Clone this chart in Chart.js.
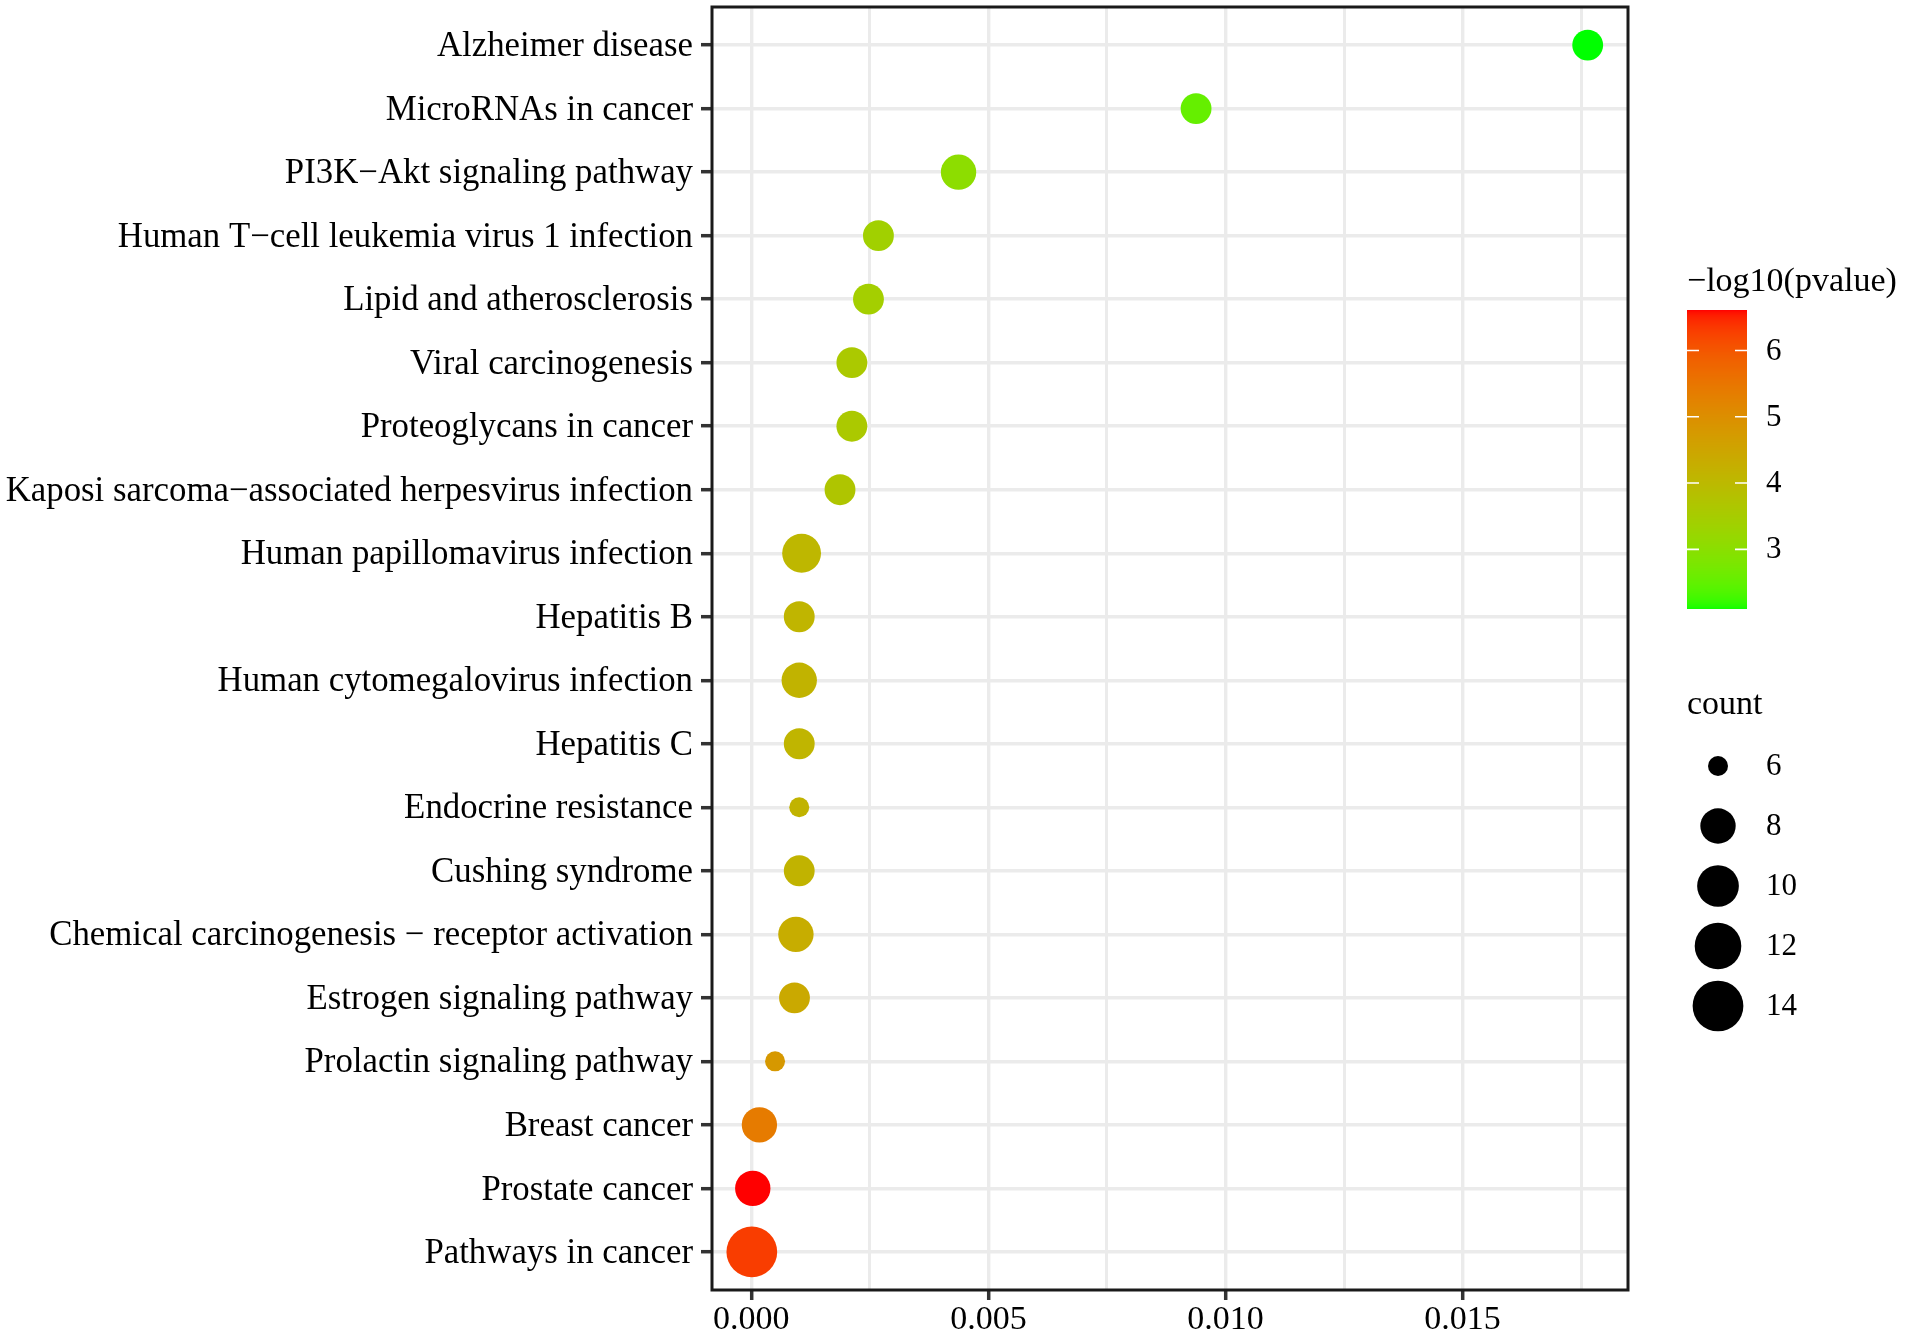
<!DOCTYPE html>
<html>
<head>
<meta charset="utf-8">
<script src="https://cdn.jsdelivr.net/npm/chart.js@4.4.1/dist/chart.umd.min.js"></script>
<style>
html,body{margin:0;padding:0;background:#fff;}
canvas{display:block;}
</style>
</head>
<body>
<canvas id="c" width="1907" height="1341" style="width:1907px;height:1341px"></canvas>
<script>
// ---------- data ----------
const categories = [
  "Alzheimer disease",
  "MicroRNAs in cancer",
  "PI3K\u2212Akt signaling pathway",
  "Human T\u2212cell leukemia virus 1 infection",
  "Lipid and atherosclerosis",
  "Viral carcinogenesis",
  "Proteoglycans in cancer",
  "Kaposi sarcoma\u2212associated herpesvirus infection",
  "Human papillomavirus infection",
  "Hepatitis B",
  "Human cytomegalovirus infection",
  "Hepatitis C",
  "Endocrine resistance",
  "Cushing syndrome",
  "Chemical carcinogenesis \u2212 receptor activation",
  "Estrogen signaling pathway",
  "Prolactin signaling pathway",
  "Breast cancer",
  "Prostate cancer",
  "Pathways in cancer"
];
const xValues = [0.01764, 0.00938, 0.00437, 0.00268, 0.00247, 0.00212, 0.00212, 0.00187,
                 0.00106, 0.00101, 0.00101, 0.00101, 0.00101, 0.00101, 0.00094, 0.00091,
                 0.00050, 0.00017, 0.00003, 0.00001];
const negLog10P = [2.10, 2.55, 3.05, 3.40, 3.45, 3.60, 3.60, 3.70,
                   4.05, 4.10, 4.15, 4.10, 4.15, 4.15, 4.30, 4.40,
                   4.80, 5.40, 6.61, 6.30];
const counts = [7, 7, 8, 7, 7, 7, 7, 7, 9, 7, 8, 7, 6, 7, 8, 7, 6, 8, 8, 14];
const xMajorTicks = [0, 0.005, 0.010, 0.015];
const xMinorTicks = [0.0025, 0.0075, 0.0125, 0.0175];
const colorTicks = [3, 4, 5, 6];
const sizeBreaks = [6, 8, 10, 12, 14];
const colorTitle = "\u2212log10(pvalue)";
const sizeTitle = "count";

// ---------- helpers ----------
const FONT = "'Liberation Serif', 'Times New Roman', serif";
function toLin(c){c/=255;return c<=0.04045?c/12.92:Math.pow((c+0.055)/1.055,2.4);}
function toGam(c){c=c<=0.0031308?12.92*c:1.055*Math.pow(c,1/2.4)-0.055;return Math.max(0,Math.min(255,Math.round(c*255)));}
const Xn=0.95047,Yn=1,Zn=1.08883;
function f(t){return t>0.008856?Math.cbrt(t):7.787*t+16/116;}
function fi(t){const t3=t*t*t;return t3>0.008856?t3:(t-16/116)/7.787;}
function rgb2lab(r,g,b){
  r=toLin(r);g=toLin(g);b=toLin(b);
  const X=0.4124564*r+0.3575761*g+0.1804375*b,Y=0.2126729*r+0.7151522*g+0.0721750*b,Z=0.0193339*r+0.1191920*g+0.9503041*b;
  const fx=f(X/Xn),fy=f(Y/Yn),fz=f(Z/Zn);
  return [116*fy-16,500*(fx-fy),200*(fy-fz)];
}
function lab2rgb(L,a,b){
  const fy=(L+16)/116,fx=fy+a/500,fz=fy-b/200;
  const X=Xn*fi(fx),Y=Yn*fi(fy),Z=Zn*fi(fz);
  const r=3.2404542*X-1.5371385*Y-0.4985314*Z,g=-0.9692660*X+1.8760108*Y+0.0415560*Z,bb=0.0556434*X-0.2040259*Y+1.0572252*Z;
  return 'rgb('+toGam(r)+','+toGam(g)+','+toGam(bb)+')';
}
const LOW=rgb2lab(0,255,0), HIGH=rgb2lab(255,0,0);
const cMin=Math.min(...negLog10P), cMax=Math.max(...negLog10P);
function colorFor(v){
  const t=Math.max(0,Math.min(1,(v-cMin)/(cMax-cMin)));
  return lab2rgb(LOW[0]+(HIGH[0]-LOW[0])*t,LOW[1]+(HIGH[1]-LOW[1])*t,LOW[2]+(HIGH[2]-LOW[2])*t);
}
const nMin=Math.min(...counts), nMax=Math.max(...counts);
function radiusFor(n){
  const s=1+5*Math.sqrt(Math.max(0,(n-nMin)/(nMax-nMin)));
  return 0.5*6.15*(s+2.25);
}
const isMajor = v => xMajorTicks.some(m=>Math.abs(m-v)<1e-9);

// ---------- plugins ----------
const panelBorder = {
  id:'panelBorder',
  afterDatasetsDraw(chart){
    const {ctx, chartArea:a} = chart;
    ctx.save();
    ctx.strokeStyle='#1a1a1a';ctx.lineWidth=3;
    ctx.strokeRect(a.left,a.top,a.right-a.left,a.bottom-a.top);
    ctx.restore();
  }
};
const legends = {
  id:'legends',
  afterDraw(chart){
    const ctx=chart.ctx;
    ctx.save();
    const lx=1687;
    ctx.fillStyle='#000';ctx.textBaseline='alphabetic';ctx.textAlign='left';
    ctx.font='34px '+FONT;
    ctx.fillText(colorTitle,lx,291);
    const top=310,bot=609,bl=1687,br=1747,n=300;
    for(let i=0;i<n;i++){
      const v=cMin+(cMax-cMin)*(i+0.5)/n;
      const y1=bot-(bot-top)*(i+1)/n, y0=bot-(bot-top)*i/n;
      ctx.fillStyle=colorFor(v);
      ctx.fillRect(bl,Math.floor(y1),br-bl,Math.ceil(y0)-Math.floor(y1));
    }
    ctx.strokeStyle='#fff';ctx.lineWidth=1.6;
    ctx.font='31px '+FONT;ctx.textBaseline='middle';
    colorTicks.forEach(v=>{
      const y=bot-(v-cMin)/(cMax-cMin)*(bot-top);
      ctx.beginPath();
      ctx.moveTo(bl,y);ctx.lineTo(bl+12,y);
      ctx.moveTo(br-12,y);ctx.lineTo(br,y);
      ctx.stroke();
      ctx.fillStyle='#000';
      ctx.fillText(String(v),1766,y+1);
    });
    ctx.textBaseline='alphabetic';
    ctx.font='34px '+FONT;
    ctx.fillText(sizeTitle,lx,714);
    ctx.font='31px '+FONT;ctx.textBaseline='middle';
    sizeBreaks.forEach((b,i)=>{
      const y=766+i*60;
      ctx.beginPath();ctx.fillStyle='#000';
      ctx.arc(1718,y,radiusFor(b),0,Math.PI*2);ctx.fill();
      ctx.fillText(String(b),1766,y+1);
    });
    ctx.restore();
  }
};

// ---------- chart ----------
function draw(){
  new Chart(document.getElementById('c'),{
    type:'scatter',
    data:{datasets:[{
      data:categories.map((c,i)=>({x:xValues[i],y:i})),
      pointRadius:ctx=>radiusFor(counts[ctx.dataIndex]),
      pointHoverRadius:ctx=>radiusFor(counts[ctx.dataIndex]),
      pointBackgroundColor:ctx=>colorFor(negLog10P[ctx.dataIndex]),
      pointBorderWidth:0,
      pointHoverBorderWidth:0
    }]},
    options:{
      responsive:false,animation:false,devicePixelRatio:1,
      events:[],
      layout:{autoPadding:false,padding:{left:0,right:279,top:7,bottom:0}},
      plugins:{legend:{display:false},tooltip:{enabled:false}},
      scales:{
        x:{
          type:'linear',min:-0.00083,max:0.01849,
          afterBuildTicks:s=>{s.ticks=[...xMajorTicks,...xMinorTicks].sort((a,b)=>a-b).map(v=>({value:v}));},
          afterFit:s=>{s.height=51;s.paddingLeft=0;s.paddingRight=0;},
          border:{display:false},
          grid:{
            color:'#EBEBEB',lineWidth:ctx=>isMajor(ctx.tick.value)?3.4:3,
            tickLength:10,tickWidth:3.5,
            tickColor:ctx=>isMajor(ctx.tick.value)?'#333':'rgba(0,0,0,0)'
          },
          ticks:{
            autoSkip:false,maxRotation:0,padding:0,color:'#000',
            font:{family:FONT,size:34},
            callback:v=>isMajor(v)?v.toFixed(3):''
          }
        },
        y:{
          type:'linear',min:-0.6,max:categories.length-0.4,reverse:true,
          afterBuildTicks:s=>{s.ticks=categories.map((c,i)=>({value:i}));},
          afterFit:s=>{s.width=712;s.paddingTop=0;s.paddingBottom=0;},
          border:{display:false},
          grid:{color:'#EBEBEB',lineWidth:3.4,tickLength:11,tickWidth:3.5,tickColor:'#333'},
          ticks:{
            autoSkip:false,padding:8,color:'#000',labelOffset:2,
            font:{family:FONT,size:34.8},
            callback:v=>categories[v]
          }
        }
      }
    },
    plugins:[panelBorder,legends]
  });
}
if(document.fonts&&document.fonts.load){
  document.fonts.load("34px 'Liberation Serif'").then(draw,draw);
}else draw();
</script>
</body>
</html>
